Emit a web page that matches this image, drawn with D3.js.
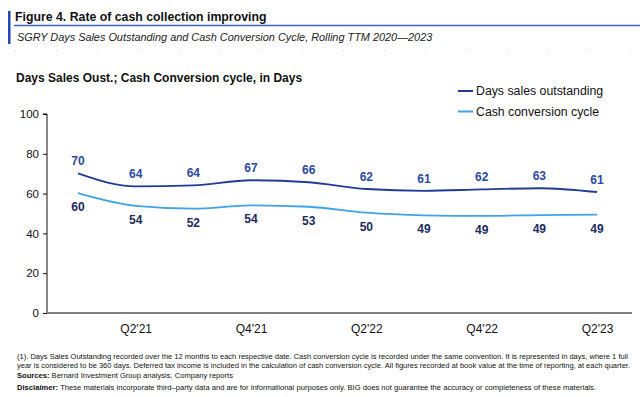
<!DOCTYPE html>
<html lang="en">
<head>
    <meta charset="UTF-8">
    <title>Rate of cash collection improving</title>
    <script src="https://cdnjs.cloudflare.com/ajax/libs/d3/7.8.5/d3.min.js"></script>
    <style>
        body { margin: 0; background: #fff; }
        svg { display: block; font-family: "Liberation Sans", Arial, sans-serif; }
    </style>
</head>
<body>
    <div id="chart"></div>

    <script>
        // data (labels are the rounded values)
        const quarters = ["Q1'21", "Q2'21", "Q3'21", "Q4'21", "Q1'22", "Q2'22", "Q3'22", "Q4'22", "Q1'23", "Q2'23"];
        const dso = [70.2, 63.6, 64.1, 66.7, 65.7, 62.3, 61.4, 62.1, 62.7, 60.8];
        const ccc = [60.2, 53.8, 52.4, 54.1, 53.4, 50.4, 49.1, 48.8, 49.2, 49.4];
        const shownTicks = ["Q2'21", "Q4'21", "Q2'22", "Q4'22", "Q2'23"];
        const yTicks = [0, 20, 40, 60, 80, 100];

        const width = 640, height = 397;
        const dsoColor = "#1f3c98", cccColor = "#3ea3ea";

        const svg = d3.select("#chart").append("svg")
            .attr("width", width)
            .attr("height", height);

        // header
        svg.append("rect").attr("x", 8).attr("y", 11).attr("width", 2.5).attr("height", 33).attr("fill", "#2447b8");
        svg.append("text").attr("x", 15).attr("y", 21)
            .attr("font-size", 12.3).attr("font-weight", "bold").attr("fill", "#111")
            .text("Figure 4. Rate of cash collection improving");
        svg.append("line").attr("x1", 14).attr("x2", width).attr("y1", 25.5).attr("y2", 25.5)
            .attr("stroke", "#3a63c4").attr("stroke-width", 1.5);
        svg.append("text").attr("x", 17).attr("y", 41)
            .attr("font-size", 10.9).attr("font-style", "italic").attr("fill", "#222")
            .text("SGRY Days Sales Outstanding and Cash Conversion Cycle, Rolling TTM 2020\u20142023");
        svg.append("line").attr("x1", 15).attr("x2", width).attr("y1", 51).attr("y2", 51)
            .attr("stroke", "#ccc").attr("stroke-dasharray", "1,40");

        svg.append("text").attr("x", 16).attr("y", 82)
            .attr("font-size", 12).attr("font-weight", "bold").attr("fill", "#111")
            .text("Days Sales Oust.; Cash Conversion cycle, in Days");

        // scales
        const x = d3.scalePoint().domain(quarters).range([78, 597]);
        const y = d3.scaleLinear().domain([0, 100]).range([313, 114]);

        // y axis
        const yAxis = svg.append("g")
            .attr("transform", "translate(47,0)")
            .call(d3.axisLeft(y).tickValues(yTicks).tickSize(4).tickPadding(4));
        yAxis.select(".domain").attr("stroke", "#111").attr("d", "M-4,114H0V313");
        yAxis.selectAll(".tick line").attr("stroke", "#111");
        yAxis.selectAll(".tick text").attr("font-size", 11.5).attr("fill", "#111")
            .attr("font-family", "Liberation Sans, Arial, sans-serif");

        // x axis
        const xAxis = svg.append("g")
            .attr("transform", "translate(0,313)")
            .call(d3.axisBottom(x).tickValues(shownTicks).tickSize(0).tickPadding(11));
        xAxis.select(".domain").attr("d", "M47,0H632").attr("stroke", "#7f7f7f").attr("stroke-width", 2);
        xAxis.selectAll(".tick text").attr("font-size", 12).attr("fill", "#111")
            .attr("font-family", "Liberation Sans, Arial, sans-serif");

        // lines
        const line = d3.line()
            .x((d, i) => x(quarters[i]))
            .y(d => y(d))
            .curve(d3.curveMonotoneX);

        svg.append("path").datum(ccc).attr("d", line)
            .attr("fill", "none").attr("stroke", cccColor).attr("stroke-width", 1.8);
        svg.append("path").datum(dso).attr("d", line)
            .attr("fill", "none").attr("stroke", dsoColor).attr("stroke-width", 1.8);

        // value labels
        svg.append("g").selectAll("text").data(dso).join("text")
            .attr("x", (d, i) => x(quarters[i]))
            .attr("y", d => y(d) - 8)
            .attr("text-anchor", "middle")
            .attr("font-size", 12).attr("font-weight", "bold").attr("fill", "#2a49a8")
            .text(d => Math.round(d));
        svg.append("g").selectAll("text").data(ccc).join("text")
            .attr("x", (d, i) => x(quarters[i]))
            .attr("y", d => y(d) + 18)
            .attr("text-anchor", "middle")
            .attr("font-size", 12).attr("font-weight", "bold").attr("fill", "#1b2a62")
            .text(d => Math.round(d));

        // legend
        const legend = [["Days sales outstanding", dsoColor], ["Cash conversion cycle", cccColor]];
        const lg = svg.append("g").selectAll("g").data(legend).join("g")
            .attr("transform", (d, i) => `translate(458,${91 + i * 20.5})`);
        lg.append("line").attr("x1", 0).attr("x2", 15).attr("stroke", d => d[1]).attr("stroke-width", 2);
        lg.append("text").attr("x", 18).attr("y", 4.4)
            .attr("font-size", 12.3).attr("fill", "#111")
            .text(d => d[0]);

        // footnotes
        const notes = [
            { text: "(1). Days Sales Outstanding recorded over the 12 months to each respective date. Cash conversion cycle is recorded under the same convention. It is represented in days, where 1 full", y: 358.5, len: 611 },
            { text: "year is considered to be 360 days. Deferred tax income is included in the calculation of cash conversion cycle. All figures recorded at book value at the time of reporting, at each quarter.", y: 368, len: 613 }
        ];
        svg.append("g").selectAll("text").data(notes).join("text")
            .attr("x", 17).attr("y", d => d.y)
            .attr("font-size", 7.6).attr("fill", "#111")
            .attr("textLength", d => d.len).attr("lengthAdjust", "spacingAndGlyphs")
            .text(d => d.text);

        const src = svg.append("text").attr("x", 17).attr("y", 378)
            .attr("font-size", 7.6).attr("fill", "#111")
            .attr("textLength", 216).attr("lengthAdjust", "spacingAndGlyphs");
        src.append("tspan").attr("font-weight", "bold").text("Sources: ");
        src.append("tspan").text("Bernard Investment Group analysis, Company reports");

        const disc = svg.append("text").attr("x", 17).attr("y", 389.5)
            .attr("font-size", 7.6).attr("fill", "#111")
            .attr("textLength", 579).attr("lengthAdjust", "spacingAndGlyphs");
        disc.append("tspan").attr("font-weight", "bold").text("Disclaimer: ");
        disc.append("tspan").text("These materials incorporate third\u2013party data and are for informational purposes only. BIG does not guarantee the accuracy or completeness of these materials.");
    </script>
</body>
</html>
